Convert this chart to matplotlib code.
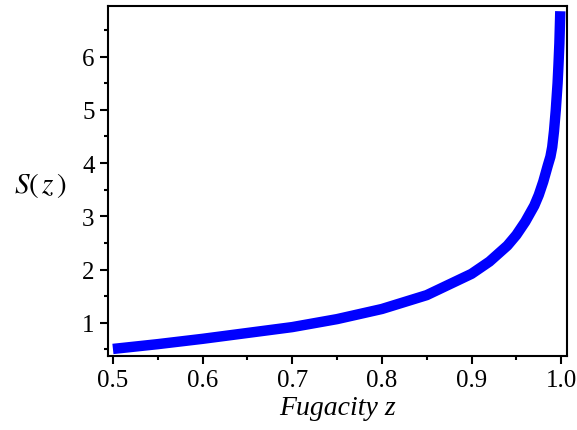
import matplotlib
matplotlib.use("Agg")
import matplotlib.pyplot as plt
from matplotlib.ticker import MultipleLocator

# values
z_vals = [0.5, 0.55, 0.6, 0.65, 0.7, 0.75, 0.8, 0.85, 0.9, 0.92, 0.94,
          0.95, 0.96, 0.97, 0.975, 0.98, 0.985, 0.988, 0.99, 0.992, 0.994,
          0.996, 0.997, 0.998, 0.999]
s_vals = [0.51, 0.60, 0.70, 0.81, 0.92, 1.07, 1.26, 1.52, 1.92, 2.15, 2.45,
          2.65, 2.90, 3.20, 3.40, 3.65, 3.95, 4.12, 4.30, 4.60, 5.00,
          5.50, 5.85, 6.25, 6.85]

x_ticks = [0.5, 0.6, 0.7, 0.8, 0.9, 1.0]
x_labels = ["0.5", "0.6", "0.7", "0.8", "0.9", "1.0"]
y_ticks = [1, 2, 3, 4, 5, 6]

plt.rcParams['font.family'] = ['Liberation Serif', 'DejaVu Serif']
plt.rcParams['mathtext.fontset'] = 'stix'

fig = plt.figure(figsize=(5.77, 4.31), dpi=100)
ax = fig.add_axes([0.187, 0.172, 0.796, 0.812])

ax.plot(z_vals, s_vals, color='#0000ff', linewidth=7.5, solid_capstyle='butt')

ax.set_xlim(0.4944, 1.0067)
ax.set_ylim(0.38, 6.95)
ax.set_xticks(x_ticks)
ax.set_xticklabels(x_labels)
ax.set_yticks(y_ticks)
ax.xaxis.set_minor_locator(MultipleLocator(0.05))
ax.yaxis.set_minor_locator(MultipleLocator(0.5))

ax.tick_params(which='major', direction='out', length=6, width=1.5, labelsize=18,
               top=False, right=False)
ax.tick_params(which='minor', direction='out', length=3, width=1.5,
               top=False, right=False)
for sp in ax.spines.values():
    sp.set_linewidth(1.5)

ax.set_xlabel('Fugacity z', fontsize=20, style='italic', labelpad=3)
fig.text(0.07, 0.57, r'$S(\,z\,)$', fontsize=21, ha='center', va='center')

fig.savefig('out.png', dpi=100)
